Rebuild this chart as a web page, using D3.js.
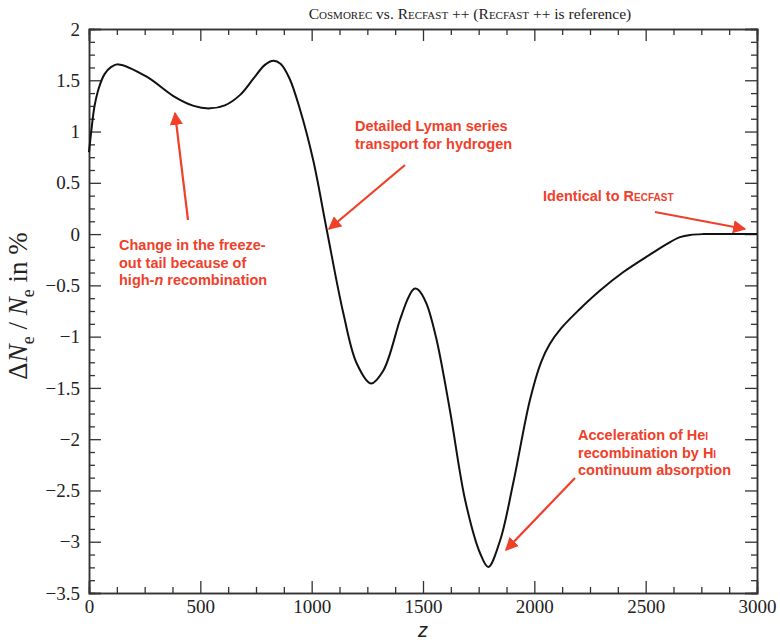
<!DOCTYPE html>
<html>
<head>
<meta charset="utf-8">
<script src="https://cdn.jsdelivr.net/npm/d3@7"></script>
<style>
  body { margin: 0; background: #fff; }
  .tick text { font-family: "Liberation Serif", "Times New Roman", serif; font-size: 19px; fill: #222; }
  .domain { stroke: #333; stroke-width: 1.5; }
  .tick line { stroke: #333; stroke-width: 1.3; }
  .note { font-family: "Liberation Sans", Arial, sans-serif; font-weight: bold; font-size: 14.5px; fill: #f0402a; }
</style>
</head>
<body>
<div id="chart"></div>
<script>
// redshift z and relative difference in N_e (%)
const zValues = [0, 10, 25, 45, 70, 100, 132, 259, 379, 470, 543, 610, 680, 740, 790, 828, 860, 900, 947, 1007, 1067, 1142, 1202, 1266, 1322, 1396, 1430, 1450, 1464, 1480, 1516, 1561, 1621, 1690, 1756, 1793, 1846, 1905, 1980, 2030, 2070, 2120, 2200, 2295, 2400, 2519, 2600, 2654, 2700, 2760, 2850, 3000];
const dNe = [0.80, 1.00, 1.25, 1.43, 1.56, 1.63, 1.655, 1.535, 1.346, 1.25, 1.226, 1.255, 1.36, 1.52, 1.65, 1.69, 1.66, 1.52, 1.22, 0.72, 0.05, -0.77, -1.26, -1.457, -1.33, -0.84, -0.64, -0.555, -0.53, -0.545, -0.68, -1.03, -1.72, -2.6, -3.11, -3.246, -2.99, -2.43, -1.62, -1.25, -1.07, -0.92, -0.74, -0.55, -0.37, -0.2, -0.09, -0.03, -0.008, 0, 0, 0];

const xTicks = [0, 500, 1000, 1500, 2000, 2500, 3000];
const yTicks = [2, 1.5, 1, 0.5, 0, -0.5, -1, -1.5, -2, -2.5, -3, -3.5];

const margin = { top: 29, right: 23, bottom: 47, left: 89 };
const width = 780 - margin.left - margin.right;
const height = 640 - margin.top - margin.bottom;

const svg = d3.select("#chart")
    .append("svg")
    .attr("width", 780)
    .attr("height", 640);

const g = svg.append("g")
    .attr("transform", `translate(${margin.left},${margin.top})`);

const x = d3.scaleLinear().domain([0, 3000]).range([0, width]);
const y = d3.scaleLinear().domain([-3.5, 2]).range([height, 0]);

const minorX = d3.range(0, 3001, 125).filter(v => v % 500 !== 0);
const minorY = d3.range(-3.5, 2.001, 0.125).filter(v => Math.abs(v * 2 - Math.round(v * 2)) > 1e-6);

const fmt = d3.format("");

// major + minor ticks on all four sides, pointing inward
g.append("g").attr("transform", `translate(0,${height})`)
    .call(d3.axisBottom(x).tickValues(xTicks).tickFormat(fmt).tickSize(-12).tickPadding(7));
g.append("g").attr("transform", `translate(0,${height})`)
    .call(d3.axisBottom(x).tickValues(minorX).tickFormat("").tickSize(-6));
g.append("g")
    .call(d3.axisTop(x).tickValues(xTicks).tickFormat("").tickSize(-12));
g.append("g")
    .call(d3.axisTop(x).tickValues(minorX).tickFormat("").tickSize(-6));

g.append("g")
    .call(d3.axisLeft(y).tickValues(yTicks).tickFormat(fmt).tickSize(-12).tickPadding(9));
g.append("g")
    .call(d3.axisLeft(y).tickValues(minorY).tickFormat("").tickSize(-6));
g.append("g").attr("transform", `translate(${width},0)`)
    .call(d3.axisRight(y).tickValues(yTicks).tickFormat("").tickSize(-12));
g.append("g").attr("transform", `translate(${width},0)`)
    .call(d3.axisRight(y).tickValues(minorY).tickFormat("").tickSize(-6));

const data = zValues.map((z, i) => ({ z: z, v: dNe[i] }));

const line = d3.line()
    .x(d => x(d.z))
    .y(d => y(d.v))
    .curve(d3.curveCatmullRom.alpha(0.5));

g.append("path")
    .datum(data)
    .attr("fill", "none")
    .attr("stroke", "#111")
    .attr("stroke-width", 2)
    .attr("d", line);

// title
const title = svg.append("text")
    .attr("x", 470)
    .attr("y", 19)
    .attr("text-anchor", "middle")
    .style("font-family", "'Liberation Serif', serif")
    .style("font-size", "15.5px")
    .style("fill", "#222");
title.append("tspan").style("font-variant", "small-caps").text("Cosmorec");
title.append("tspan").text(" vs. ");
title.append("tspan").style("font-variant", "small-caps").text("Recfast");
title.append("tspan").text(" ++ (");
title.append("tspan").style("font-variant", "small-caps").text("Recfast");
title.append("tspan").text(" ++ is reference)");

// axis labels
const yLab = svg.append("text")
    .attr("transform", "translate(27,306) rotate(-90)")
    .attr("text-anchor", "middle")
    .style("font-family", "'Liberation Serif', serif")
    .style("font-size", "27px")
    .style("fill", "#222");
yLab.append("tspan").text("Δ");
yLab.append("tspan").style("font-style", "italic").text("N");
yLab.append("tspan").attr("dy", 7).style("font-size", "18px").text("e");
yLab.append("tspan").attr("dy", -7).text(" / ");
yLab.append("tspan").style("font-style", "italic").text("N");
yLab.append("tspan").attr("dy", 7).style("font-size", "18px").text("e");
yLab.append("tspan").attr("dy", -7).text("  in %");

svg.append("text")
    .attr("x", margin.left + x(1500))
    .attr("y", 637)
    .attr("text-anchor", "middle")
    .style("font-family", "'Liberation Sans', sans-serif")
    .style("font-style", "italic")
    .style("font-size", "20px")
    .style("fill", "#222")
    .text("z");

// annotations
svg.append("defs").append("marker")
    .attr("id", "head")
    .attr("viewBox", "0 0 10 10")
    .attr("refX", 9).attr("refY", 5)
    .attr("markerWidth", 6).attr("markerHeight", 6)
    .attr("orient", "auto")
    .append("path")
    .attr("d", "M0,0 L10,5 L0,10 z")
    .attr("fill", "#f0402a");

const arrows = [
    [188, 220, 175, 113],
    [405, 165, 329, 229],
    [655, 212, 745, 229],
    [575, 478, 506, 550]
];
arrows.forEach(a => {
    svg.append("line")
        .attr("x1", a[0]).attr("y1", a[1])
        .attr("x2", a[2]).attr("y2", a[3])
        .attr("stroke", "#f0402a")
        .attr("stroke-width", 2.2)
        .attr("marker-end", "url(#head)");
});

function note(xPos, yPos, lines) {
    const t = svg.append("text").attr("class", "note").attr("x", xPos).attr("y", yPos);
    lines.forEach((parts, i) => {
        parts.forEach((p, j) => {
            const s = t.append("tspan").text(p.t);
            if (j === 0) s.attr("x", xPos).attr("dy", i === 0 ? 0 : 17.5);
            if (p.it) s.style("font-style", "italic");
            if (p.sc) s.style("font-variant", "small-caps");
            if (p.small) s.style("font-size", "10px");
        });
    });
}

note(119, 250, [
    [{ t: "Change in the freeze-" }],
    [{ t: "out tail because of" }],
    [{ t: "high-" }, { t: "n", it: true }, { t: " recombination" }]
]);
note(355, 131, [
    [{ t: "Detailed Lyman series" }],
    [{ t: "transport for hydrogen" }]
]);
note(543, 201, [
    [{ t: "Identical to " }, { t: "Recfast", sc: true }]
]);
note(578, 440, [
    [{ t: "Acceleration of He" }, { t: "I", small: true }],
    [{ t: "recombination by H" }, { t: "I", small: true }],
    [{ t: "continuum absorption" }]
]);
</script>
</body>
</html>
